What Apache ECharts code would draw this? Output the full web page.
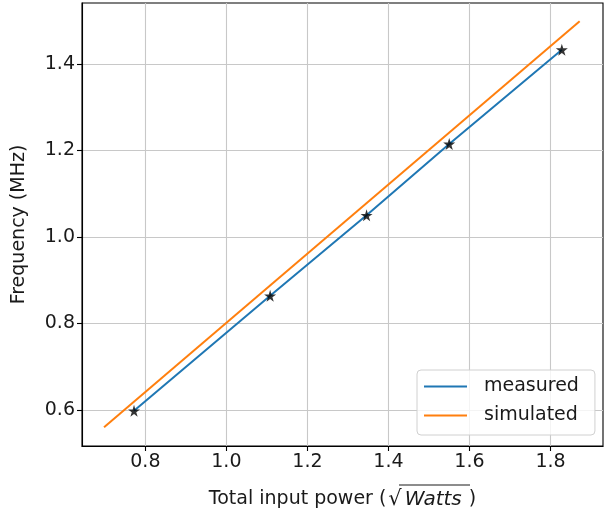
<!DOCTYPE html>
<html>
<head>
<meta charset="utf-8">
<script src="https://cdn.jsdelivr.net/npm/echarts@6/dist/echarts.min.js"></script>
<style>
html,body{margin:0;padding:0;background:#fff;}
#c{width:612px;height:517px;}
</style>
</head>
<body>
<div id="c"></div>
<script>
// Data
const measuredX = [0.772, 1.108, 1.346, 1.550, 1.828];
const measuredY = [0.598, 0.864, 1.050, 1.215, 1.433];
const simulatedX = [0.698, 1.872];
const simulatedY = [0.560, 1.499];
const xTicks = [0.8, 1.0, 1.2, 1.4, 1.6, 1.8];
const yTicks = [0.6, 0.8, 1.0, 1.2, 1.4];
const xRange = [0.6436, 1.9296];
const yRange = [0.5167, 1.541];

const FONT = 'DejaVu Sans';
const FS = 19;
const STAR = 'path://M50,0 L61,35 L98,35 L68,57 L79,91 L50,70 L21,91 L32,57 L2,35 L39,35 Z';

const zip = (a, b) => a.map((v, i) => [v, b[i]]);

const chart = echarts.init(document.getElementById('c'), null, {renderer: 'canvas'});
chart.setOption({
  animation: false,
  backgroundColor: '#fff',
  grid: {left: 82, right: 9, top: 3, bottom: 71, containLabel: false,
         show: true, borderColor: '#000', borderWidth: 1.1},
  xAxis: {
    type: 'value', min: xRange[0], max: xRange[1],
    name: '{n|Total input power (}{r|√}{i|Watts}{c|)}',
    nameLocation: 'middle', nameGap: 43,
    nameTextStyle: {rich: {
      n: {fontFamily: FONT, fontSize: FS, color: '#1a1a1a'},
      r: {fontFamily: FONT, fontSize: 21, color: '#1a1a1a', padding: [0, 1, 0, 2]},
      i: {fontFamily: FONT, fontSize: 20, fontStyle: 'italic', color: '#1a1a1a', padding: [0, 4, 0, 2]},
      c: {fontFamily: FONT, fontSize: FS, color: '#1a1a1a', padding: [0, 0, 0, 3]}
    }},
    axisLine: {show: true, onZero: false, lineStyle: {color: '#000', width: 1.1}},
    axisTick: {show: true, length: 5, inside: false, customValues: xTicks, lineStyle: {color: '#000', width: 1.1}},
    axisLabel: {customValues: xTicks, margin: 7, fontFamily: FONT, fontSize: FS, color: '#1a1a1a',
                formatter: v => v.toFixed(1)},
    splitLine: {show: true, lineStyle: {color: '#c8c8c8', width: 1.1}}
  },
  yAxis: {
    type: 'value', min: yRange[0], max: yRange[1],
    name: 'Frequency (MHz)', nameLocation: 'middle', nameGap: 53,
    nameTextStyle: {fontFamily: FONT, fontSize: FS, color: '#1a1a1a'},
    axisLine: {show: true, onZero: false, lineStyle: {color: '#000', width: 1.1}},
    axisTick: {show: true, length: 5, customValues: yTicks, lineStyle: {color: '#000', width: 1.1}},
    axisLabel: {customValues: yTicks, margin: 7, fontFamily: FONT, fontSize: FS, color: '#1a1a1a',
                formatter: v => v.toFixed(1)},
    splitLine: {show: true, lineStyle: {color: '#c8c8c8', width: 1.1}}
  },
  legend: {
    data: [{name: 'measured', icon: 'rect'}, {name: 'simulated', icon: 'rect'}],
    orient: 'vertical', left: 417, top: 370,
    itemWidth: 43, itemHeight: 2, itemGap: 8,
    padding: [6, 16, 9, 7],
    backgroundColor: 'rgba(255,255,255,0.8)', borderColor: '#d0d0d0', borderWidth: 1, borderRadius: 4,
    textStyle: {fontFamily: FONT, fontSize: FS, color: '#1a1a1a', lineHeight: 21, padding: [0, 0, 0, 12]}
  },
  graphic: [
    {type: 'line', shape: {x1: 399, y1: 485, x2: 470, y2: 485}, style: {stroke: '#1a1a1a', lineWidth: 1}}
  ],
  series: [
    {name: 'measured', type: 'line', data: zip(measuredX, measuredY), showSymbol: false,
     lineStyle: {color: '#1f77b4', width: 2}, itemStyle: {color: '#1f77b4'}, z: 2},
    {name: 'simulated', type: 'line', data: zip(simulatedX, simulatedY), showSymbol: false,
     lineStyle: {color: '#ff7f0e', width: 2}, itemStyle: {color: '#ff7f0e'}, z: 3},
    {name: 'points', type: 'scatter', data: zip(measuredX, measuredY), symbol: STAR, symbolSize: 12,
     itemStyle: {color: '#000'}, z: 4}
  ]
});
</script>
</body>
</html>
